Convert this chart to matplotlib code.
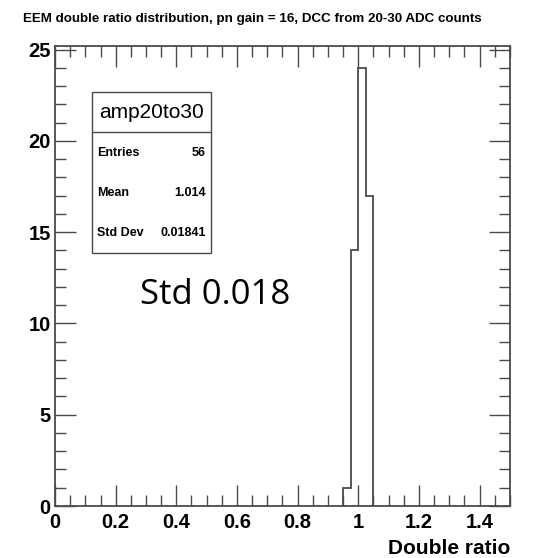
import numpy as np
import matplotlib
matplotlib.use('Agg')
import matplotlib.pyplot as plt
from matplotlib.patches import Rectangle
from matplotlib.ticker import MultipleLocator

# histogram contents (bin width 0.025)
bin_edges = [0.95, 0.975, 1.0, 1.025, 1.05]
counts = [1, 14, 24, 17]

title = 'EEM double ratio distribution, pn gain = 16, DCC from 20-30 ADC counts'
hist_name = 'amp20to30'
stat_names = ['Entries', 'Mean', 'Std Dev']
stat_values = ['56', '1.014', '0.01841']
note = 'Std 0.018'

plt.rcParams['font.family'] = 'Liberation Sans'
plt.rcParams['font.weight'] = 'bold'

W, H = 543, 558
fig = plt.figure(figsize=(5.43, 5.58), dpi=100)
ax = fig.add_axes([55/W, 1-506/H, (510-55)/W, (506-46)/H])

linecol = '#4a4a4a'
ax.stairs(counts, bin_edges, color=linecol, lw=1.3)

ax.set_xlim(0, 1.5)
ax.set_ylim(0, 25.2)
ax.xaxis.set_major_locator(MultipleLocator(0.2))
ax.xaxis.set_minor_locator(MultipleLocator(0.05))
ax.yaxis.set_major_locator(MultipleLocator(5))
ax.yaxis.set_minor_locator(MultipleLocator(1))
ax.tick_params(which='both', direction='in', top=True, right=True,
               color=linecol, labelsize=14.5)
ax.tick_params(which='major', length=15, width=1.0)
ax.tick_params(which='minor', length=8, width=1.0)
ax.tick_params(axis='x', pad=5)
ax.tick_params(axis='y', pad=3)
for s in ax.spines.values():
    s.set_color(linecol)
    s.set_linewidth(1.3)

ax.xaxis.set_major_formatter(lambda v, p: '%g' % round(v, 2))
ax.yaxis.set_major_formatter(lambda v, p: '%g' % v)

ax.set_xlabel('Double ratio', fontsize=15, fontweight='bold', loc='right', labelpad=5)
fig.text(23/W, 1-19/H, title, fontsize=9.6, fontweight='bold', va='center', ha='left')

# stats box
bx0, bx1, by0, by1, bsep = 92, 211, 92, 253, 132
fig.patches.append(Rectangle((bx0/W, 1-by1/H), (bx1-bx0)/W, (by1-by0)/H,
                             transform=fig.transFigure, fill=True, fc='white',
                             ec=linecol, lw=1.0))
fig.lines.append(plt.Line2D([bx0/W, bx1/W], [1-bsep/H, 1-bsep/H],
                            transform=fig.transFigure, color=linecol, lw=1.0))
fig.text((bx0+bx1)/2/W, 1-112/H, hist_name, fontsize=15, fontweight='normal',
         ha='center', va='center')
row_y = [153, 193, 233]
for nm, val, ry in zip(stat_names, stat_values, row_y):
    fig.text((bx0+5)/W, 1-ry/H, nm, fontsize=9, fontweight='bold', va='center')
    fig.text((bx1-5)/W, 1-ry/H, val, fontsize=9, fontweight='bold', va='center', ha='right')

fig.text(140/W, 1-295/H, note, fontsize=25, fontweight='normal', family='Open Sans',
         va='center', ha='left')

fig.savefig('out.png', dpi=100)
